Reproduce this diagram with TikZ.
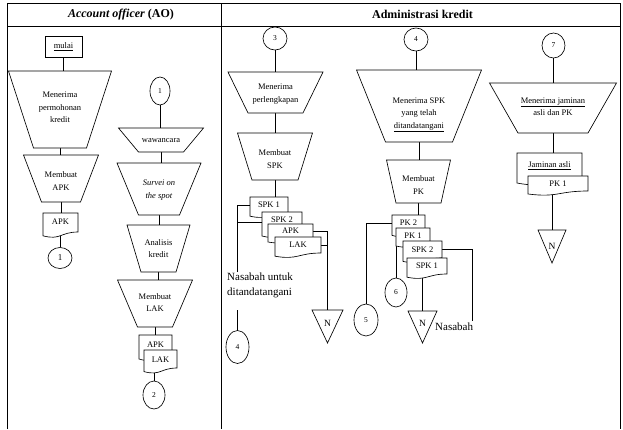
\documentclass[tikz,border=0pt]{standalone}
\usepackage{fontspec}
\setmainfont{Liberation Serif}
\usetikzlibrary{shapes.geometric,calc}
\pgfdeclarelayer{background}
\pgfsetlayers{background,main}

\tikzset{
  edge/.style={draw=black, line width=0.65pt},
  outline/.style={draw=black, line width=0.65pt},
  lbl/.style={font=\fontsize{8.5}{12.5}\selectfont, align=center, inner sep=0pt},
  conn/.style={ellipse, draw=black, line width=0.65pt, inner sep=0pt, font=\fontsize{7.5}{9}\selectfont},
  hole/.style={inner sep=0pt, outer sep=0pt},
  frame/.style={draw=black, line width=0.8pt},
  head/.style={font=\fontsize{12}{14}\selectfont\bfseries, inner sep=0pt},
  note/.style={font=\fontsize{11}{14.5}\selectfont, inner sep=0pt, align=left},
}

% manual-operation trapezoid: name, centre x, top y, bottom y, top width, bottom width, text, text y
\newcommand\flowtrap[8]{%
  \node[hole, minimum width={#5*1pt}, minimum height={(#4-#3)*1pt}] (#1) at (#2,{(#3+#4)/2}) {};
  \filldraw[outline, fill=white] (#1.north west) -- (#1.north east)
    -- ($(#1.south)+({#6/2},0)$) -- ($(#1.south)-({#6/2},0)$) -- cycle;
  \node[lbl] at (#2,#8) {#7};
}
% document shape with wavy lower edge: name, x1, y1, x2, y2 (right foot), text, text y
\newcommand\flowdoc[7]{%
  \filldraw[outline, fill=white] (#2,#3) -- (#4,#3) -- (#4,#5)
    .. controls ({(#2+#4)/2},#5) and ({(#2+#4)/2},{#5+0.45*(#5-#3)}) .. (#2,{#5+0.2*(#5-#3)}) -- cycle;
  \node[hole, minimum width={(#4-#2)*1pt}, minimum height={(#5-#3)*1pt}] (#1) at ({(#2+#4)/2},{(#3+#5)/2}) {};
  \node[lbl] at ({(#2+#4)/2},#7) {#6};
}
\newcommand\offpage{\fontsize{9.5}{11}\selectfont N}

\begin{document}
\begin{tikzpicture}[x=1pt,y=-1pt]
\useasboundingbox (0,0) rectangle (623,429);

% table frame and headings
\draw[frame] (7,429) -- (7,3) -- (620.5,3) -- (620.5,429);
\draw[frame] (7,26) -- (620.5,26);
\draw[frame] (221,3) -- (221,429);
\node[head] (hAO) at (121,14.5) {\textit{Account officer} (AO)};
\node[head] (hAK) at (422.5,14.5) {Administrasi kredit};

% ---- Account officer: application
\node[outline, lbl, minimum width=37pt, minimum height=21pt] (start) at (63.5,46.5) {\underline{mulai}};
\flowtrap{t1}{60}{71}{148}{103}{53}{Menerima\\permohonan\\kredit}{107.5}
\flowtrap{t2}{61}{155}{202}{75}{39}{Membuat\\APK}{181}
\flowdoc{d1}{43}{213}{78}{232}{APK}{222}
\node[conn, minimum width=24pt, minimum height=21pt, font=\fontsize{9}{10}\selectfont] (a1) at (60,258) {1};

% ---- Account officer: analysis
\node[conn, minimum width=20pt, minimum height=28pt] (b1) at (160,91) {1};
\flowtrap{t3}{161}{128}{152}{85}{45}{wawancara}{141}
\flowtrap{t4}{159}{163}{215}{84}{41}{\textit{Survei on}\\\textit{the spot}}{190}
\flowtrap{t5}{158.5}{225}{272}{63}{35}{Analisis\\kredit}{248.5}
\flowtrap{t6}{155}{280}{327}{75}{35}{Membuat\\LAK}{302.5}
\flowdoc{d2}{139}{335}{172}{355}{APK}{345}
\flowdoc{d3}{144}{350}{177}{368}{LAK}{359.5}
\node[conn, minimum width=22pt, minimum height=28pt] (b2) at (154,395) {2};

% ---- Administrasi kredit: SPK
\node[conn, minimum width=24pt, minimum height=23pt] (c3) at (275,38.5) {3};
\flowtrap{t7}{275.5}{72}{113}{95}{55}{Menerima\\perlengkapan}{94}
\flowtrap{t8}{275}{133}{180}{75}{46}{Membuat\\SPK}{159}
\flowdoc{s1}{250}{197}{288}{213}{SPK 1}{205}
\flowdoc{s2}{262}{212}{302}{232}{SPK 2}{220}
\flowdoc{s3}{268}{224}{313}{239}{APK}{231}
\flowdoc{s4}{275}{237}{321}{253}{LAK}{245}
\node[note, anchor=north west] (nasa1) at (227,273) {Nasabah untuk\\ditandatangani};
\coordinate (busL) at (237.5,272);
\coordinate (busL2) at (237.5,310);
\node[conn, minimum width=23pt, minimum height=33pt] (c4a) at (237.5,347) {4};
\flowtrap{n1}{327.5}{310}{343}{31}{0}{\offpage}{323}

% ---- Administrasi kredit: PK
\node[conn, minimum width=24pt, minimum height=23pt] (c4b) at (416,39.5) {4};
\flowtrap{t9}{419}{70}{142}{125}{67}{Menerima SPK\\yang telah\\\underline{ditandatangani}}{115}
\flowtrap{t10}{418.5}{160}{203}{64}{45}{Membuat\\PK}{185}
\flowdoc{p2}{392}{215}{425}{232}{PK 2}{223}
\flowdoc{p1}{396}{228}{430}{243}{PK 1}{236}
\flowdoc{q2}{403}{241}{442}{258}{SPK 2}{250}
\flowdoc{q1}{407}{258}{447}{274}{SPK 1}{266}
\node[conn, minimum width=24pt, minimum height=32pt] (c5) at (366,320) {5};
\node[conn, minimum width=22pt, minimum height=29pt] (c6) at (396,292.5) {6};
\flowtrap{n2}{422.5}{311}{343}{29}{0}{\offpage}{323}
\node[note, anchor=west] (nasa2) at (435,327) {Nasabah};
\coordinate (busR) at (472,321);

% ---- Administrasi kredit: collateral
\node[conn, minimum width=23pt, minimum height=25pt] (c7) at (553.5,45.5) {7};
\flowtrap{t11}{553}{83}{133}{127}{70}{\underline{Menerima jaminan}\\asli dan PK}{106.5}
\flowdoc{j1}{517}{153}{582}{178}{\underline{Jaminan asli}}{166}
\flowdoc{j2}{528}{176}{588}{191}{PK 1}{183.5}
\flowtrap{n3}{552}{230}{263}{28}{0}{\offpage}{246}

% connectors
\begin{pgfonlayer}{background}
\draw[edge] (start.south) -- (start.south |- t1.north);
\draw[edge] (t1.south) -- (t1.south |- t2.north);
\draw[edge] (t2.south) -- (t2.south |- d1.north);
\draw[edge] (a1.north |- d1.south) -- (a1.north);

\draw[edge] (b1.south) -- (b1.south |- t3.north);
\draw[edge] (t3.south) -- (t3.south |- t4.north);
\draw[edge] (t4.south) -- (t4.south |- t5.north);
\draw[edge] (t5.south) -- (t5.south |- t6.north);
\draw[edge] (t6.south) -- (t6.south |- d2.north);
\draw[edge] (b2.north |- d3.south) -- (b2.north);

\draw[edge] (c3.south) -- (c3.south |- t7.north);
\draw[edge] (t7.south) -- (t7.south |- t8.north);
\draw[edge] (t8.south) -- (t8.south |- s1.north);
\draw[edge] (s1.west) -| (busL);
\draw[edge] (s2.west) -- (s2.west -| busL);
\draw[edge] (busL2) -- (c4a.north);
\draw[edge] (s3.east) -| (n1.north);
\draw[edge] (s4.east) -- (s4.east -| n1.north);

\draw[edge] (c4b.south) -- (c4b.south |- t9.north);
\draw[edge] (t9.south) -- (t9.south |- t10.north);
\draw[edge] (t10.south) -- (t10.south |- p2.north);
\draw[edge] (p2.west) -| (c5.north);
\draw[edge] (p1.south west) -- (c6.north);
\draw[edge] (q2.east) -| (busR);
\draw[edge] (n2.north |- q1.south) -- (n2.north);

\draw[edge] (c7.south) -- (c7.south |- t11.north);
\draw[edge] (t11.south) -- (t11.south |- j1.north);
\draw[edge] (n3.north |- j2.south) -- (n3.north);
\end{pgfonlayer}
\end{tikzpicture}
\end{document}
